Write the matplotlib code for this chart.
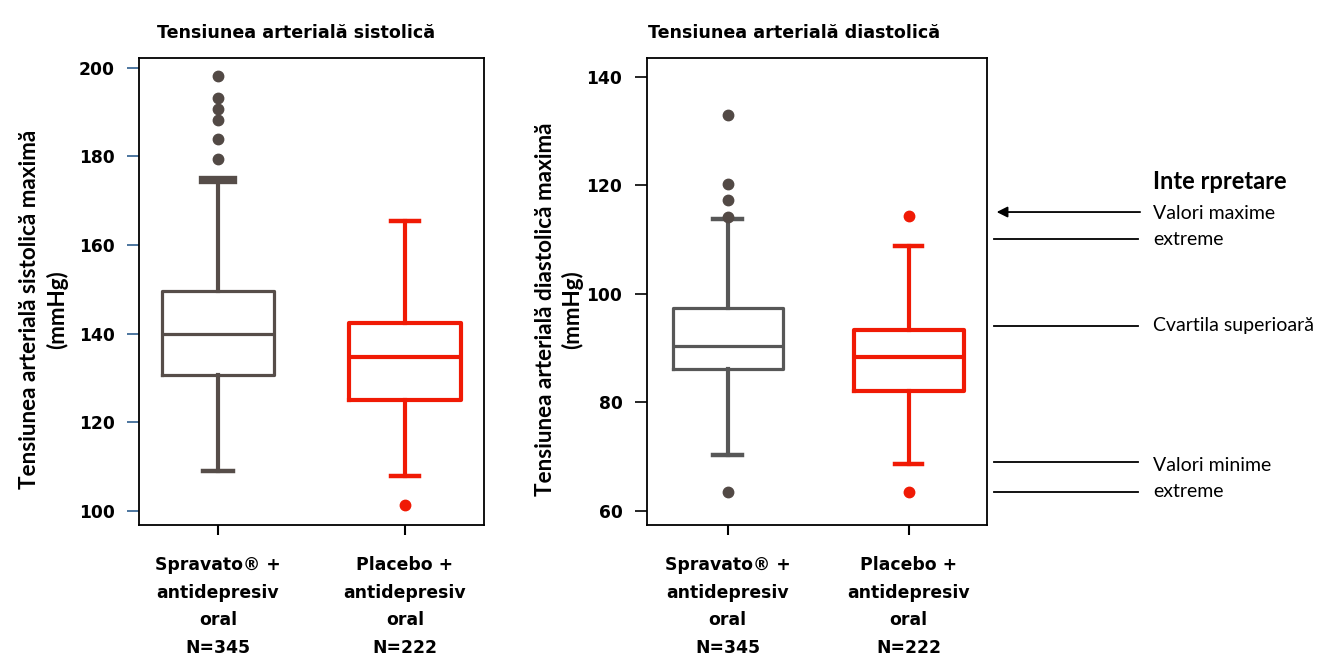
import matplotlib
matplotlib.use("Agg")
import matplotlib.pyplot as plt
import matplotlib.transforms as mtransforms

# categories and box statistics
categories = ["Spravato® +\nantidepresiv\noral\nN=345", "Placebo +\nantidepresiv\noral\nN=222"]
sys_colors = ["#564d49", "#f01a05"]
dia_colors = ["#575757", "#f01a05"]
flier_colors = ["#524945", "#f01a05"]

sys_q1 = [130.7, 125.0]
sys_med = [140.0, 134.7]
sys_q3 = [149.7, 142.4]
sys_lo = [109.1, 107.9]
sys_hi = [174.7, 165.5]
sys_out = [[198.1, 193.1, 190.8, 188.3, 183.9, 179.5], [101.3]]

dia_q1 = [86.2, 82.1]
dia_med = [90.4, 88.3]
dia_q3 = [97.3, 93.4]
dia_lo = [70.2, 68.6]
dia_hi = [113.8, 108.9]
dia_out = [[133.1, 120.3, 117.4, 114.2, 63.5], [114.3, 63.5]]

sys_ticks = [100, 120, 140, 160, 180, 200]
dia_ticks = [60, 80, 100, 120, 140]

legend_title = "Inte rpretare"
legend_labels = ["Valori maxime", "extreme", "Cvartila superioară", "Valori minime", "extreme"]
legend_y = [114.9, 110.1, 94.1, 68.3, 63.5]
legend_line_y = [115.1, 110.1, 94.1, 69.0, 63.5]

fig = plt.figure(figsize=(13.19, 6.66), dpi=100)
ax1 = fig.add_axes([0.1054, 0.2114, 0.2615, 0.7021])
ax2 = fig.add_axes([0.4903, 0.2114, 0.2582, 0.7021])


def draw_panel(ax, q1, med, q3, lo, hi, out, widths, colors, lw):
    stats = []
    for i in range(2):
        stats.append(dict(q1=q1[i], med=med[i], q3=q3[i], whislo=lo[i], whishi=hi[i], fliers=out[i]))
    res = ax.bxp(stats, positions=[0, 1], widths=widths, capwidths=[0.16, 0.15],
                 showfliers=True, patch_artist=False)
    for i, c in enumerate(colors):
        res['boxes'][i].set(color=c, linewidth=lw[i])
        res['medians'][i].set(color=c, linewidth=lw[i])
        for w in res['whiskers'][2 * i:2 * i + 2]:
            w.set(color=c, linewidth=3.0)
        for cp in res['caps'][2 * i:2 * i + 2]:
            cp.set(color=c, linewidth=3.2)
        fc = flier_colors[i]
        res['fliers'][i].set(marker='o', markerfacecolor=fc, markeredgecolor=fc,
                             markersize=7.5, linestyle='none')
    return res


r1 = draw_panel(ax1, sys_q1, sys_med, sys_q3, sys_lo, sys_hi, sys_out, 0.594, sys_colors, [2.3, 3.0])
r1['caps'][1].set_linewidth(6)
r2 = draw_panel(ax2, dia_q1, dia_med, dia_q3, dia_lo, dia_hi, dia_out, 0.608, dia_colors, [2.3, 3.0])

ax1.set_xlim(-0.4225, 1.422)
ax1.set_ylim(96.8, 202.3)
ax2.set_xlim(-0.4475, 1.434)
ax2.set_ylim(57.3, 143.6)

for ax, ticks in [(ax1, sys_ticks), (ax2, dia_ticks)]:
    ax.set_yticks(ticks)
    ax.set_xticks([0, 1])
    ax.set_xticklabels(categories, fontweight='bold', fontsize=12.4, linespacing=1.7)
    for lab in ax.get_yticklabels():
        lab.set_fontweight('bold')
        lab.set_fontsize(12.3)
    ax.tick_params(axis='y', length=8.5, width=1.2, pad=9)
    ax.tick_params(axis='x', length=7, width=1.5, pad=15)
    for sp in ax.spines.values():
        sp.set_linewidth(1.3)

# left panel has blue y ticks and a blue first x tick
ax1.tick_params(axis='y', color='#2f5f8f')
ax1.xaxis.get_major_ticks()[0].tick1line.set_color('#2f5f8f')

ax1.set_title("Tensiunea arterială sistolică", fontweight='bold', fontsize=12.6, x=0.455, pad=14)
ax2.set_title("Tensiunea arterială diastolică", fontweight='bold', fontsize=12.6, x=0.432, pad=14)

ax1.set_ylabel("Tensiunea arterială sistolică maximă\n(mmHg)", family=['Lato', 'DejaVu Sans'],
               fontweight='bold', fontsize=16.2, linespacing=1.3)
ax1.yaxis.set_label_coords(-0.206, 0.462)
ax2.set_ylabel("Tensiunea arterială diastolică maximă\n(mmHg)", family=['Lato', 'DejaVu Sans'],
               fontweight='bold', fontsize=16.2, linespacing=1.3)
ax2.yaxis.set_label_coords(-0.187, 0.462)

# interpretation key on the right
tr = mtransforms.blended_transform_factory(fig.transFigure, ax2.transData)
ax2.text(0.874, 120.8, legend_title, transform=tr, family=['Lato', 'DejaVu Sans'],
         fontweight='bold', fontsize=17, va='center', clip_on=False)
for i, (lab, y, ly) in enumerate(zip(legend_labels, legend_y, legend_line_y)):
    ax2.text(0.874, y, lab, transform=tr, family=['Lato', 'DejaVu Sans'], fontsize=14,
             va='center', clip_on=False)
    if i == 0:
        ax2.annotate("", xy=(0.7535, ly), xytext=(0.8665, ly), xycoords=tr, textcoords=tr,
                     arrowprops=dict(arrowstyle='-|>', color='black', lw=1.3, mutation_scale=16),
                     annotation_clip=False)
    else:
        ax2.plot([0.7535, 0.8628], [ly, ly], transform=tr, color='black', lw=1.3, clip_on=False)

fig.savefig("out.png", dpi=100)
